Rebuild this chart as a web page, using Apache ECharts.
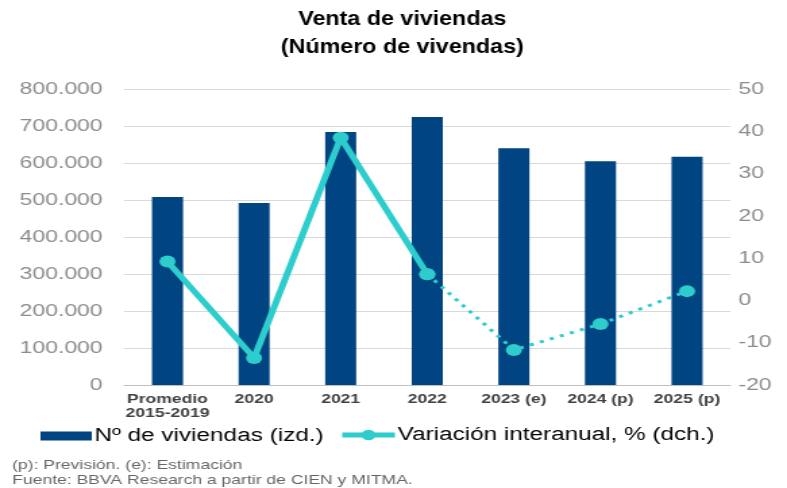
<!DOCTYPE html>
<html>
<head>
<meta charset="utf-8">
<script src="https://cdn.jsdelivr.net/npm/echarts@6/dist/echarts.min.js"></script>
<style>
  html, body { margin: 0; padding: 0; background: #fff; overflow: hidden; }
  /* the reference is stretched sideways, so draw narrower and widen it */
  #main { width: 583px; height: 488px; transform: scaleX(1.35); transform-origin: 0 0; }
</style>
</head>
<body>
<div id="main"></div>
<script>
  var categories = ['Promedio\n2015-2019', '2020', '2021', '2022', '2023 (e)', '2024 (p)', '2025 (p)']
  var viviendas = [508000, 492000, 684000, 724000, 640000, 605000, 617000]
  var variacion = [9.2, -13.6, 38.5, 6.2, -11.7, -5.6, 2.2]
  var lastObserved = 3 // 2022, after that the line is dotted
  var leftTicks = [0, 800000, 100000]
  var rightTicks = [-20, 50, 10]

  var navy = '#004481'
  var aqua = '#2dcccd'
  var font = 'Liberation Sans, Arial, sans-serif'
  var barName = 'Nº de viviendas (izd.)'
  var lineName = 'Variación interanual, % (dch.)'

  var solid = variacion.map((v, i) => i <= lastObserved ? v : '-')
  var dotted = variacion.map((v, i) => i >= lastObserved ? v : '-')

  var legendText = { fontSize: 18, color: '#000', fontFamily: font, padding: [0, 0, 0, -3] }

  var chart = echarts.init(document.getElementById('main'))
  chart.setOption({
    animation: false,
    textStyle: { fontFamily: font },
    legend: [{
      left: 30,
      top: 427,
      padding: 0,
      itemWidth: 38,
      itemHeight: 9,
      textStyle: legendText,
      data: [{ name: barName, icon: 'rect' }]
    }, {
      left: 251,
      top: 426,
      padding: 0,
      itemWidth: 39,
      itemHeight: 13,
      textStyle: legendText,
      data: [{ name: lineName, lineStyle: { width: 5 } }]
    }],
    grid: { left: 92, right: 42, top: 89, bottom: 103 },
    xAxis: {
      type: 'category',
      data: categories,
      axisLine: { lineStyle: { color: '#bfbfbf' } },
      axisTick: { length: 5, lineStyle: { color: '#bfbfbf' } },
      axisLabel: { interval: 0, fontSize: 13, fontWeight: 'bold', color: '#404040', lineHeight: 14, margin: 7 }
    },
    yAxis: [{
      type: 'value',
      min: leftTicks[0],
      max: leftTicks[1],
      interval: leftTicks[2],
      axisLabel: {
        fontSize: 17,
        color: '#8c8c8c',
        margin: 16,
        formatter: v => v === 0 ? '0' : (v / 1000).toFixed(0) + '.000'
      },
      splitLine: { lineStyle: { color: '#d9d9d9' } }
    }, {
      type: 'value',
      min: rightTicks[0],
      max: rightTicks[1],
      interval: rightTicks[2],
      axisLabel: { fontSize: 17, color: '#8c8c8c', margin: 6 },
      splitLine: { show: false }
    }],
    series: [{
      name: barName,
      type: 'bar',
      data: viviendas,
      barWidth: 23,
      itemStyle: { color: navy }
    }, {
      name: lineName,
      type: 'line',
      yAxisIndex: 1,
      data: solid,
      symbol: 'circle',
      symbolSize: 12,
      itemStyle: { color: aqua },
      lineStyle: { color: aqua, width: 5 },
      z: 3
    }, {
      name: 'previsión',
      type: 'line',
      yAxisIndex: 1,
      data: dotted,
      symbol: 'circle',
      symbolSize: 12,
      itemStyle: { color: aqua },
      lineStyle: { color: aqua, width: 3, type: [3, 5] },
      z: 3
    }],
    graphic: [{
      type: 'text',
      x: 298,
      y: 5,
      scaleX: 0.82,
      style: {
        text: 'Venta de viviendas\n(Número de vivendas)',
        align: 'center',
        verticalAlign: 'top',
        fontFamily: font,
        fontWeight: 'bold',
        fontSize: 21,
        lineHeight: 28,
        fill: '#000'
      }
    }, {
      type: 'text',
      left: 9,
      top: 459,
      style: { text: '(p): Previsión. (e): Estimación', fontSize: 13, fill: '#666', fontFamily: font }
    }, {
      type: 'text',
      left: 9,
      top: 474,
      style: { text: 'Fuente: BBVA Research a partir de CIEN y MITMA.', fontSize: 13, fill: '#666', fontFamily: font }
    }]
  })
</script>
</body>
</html>
